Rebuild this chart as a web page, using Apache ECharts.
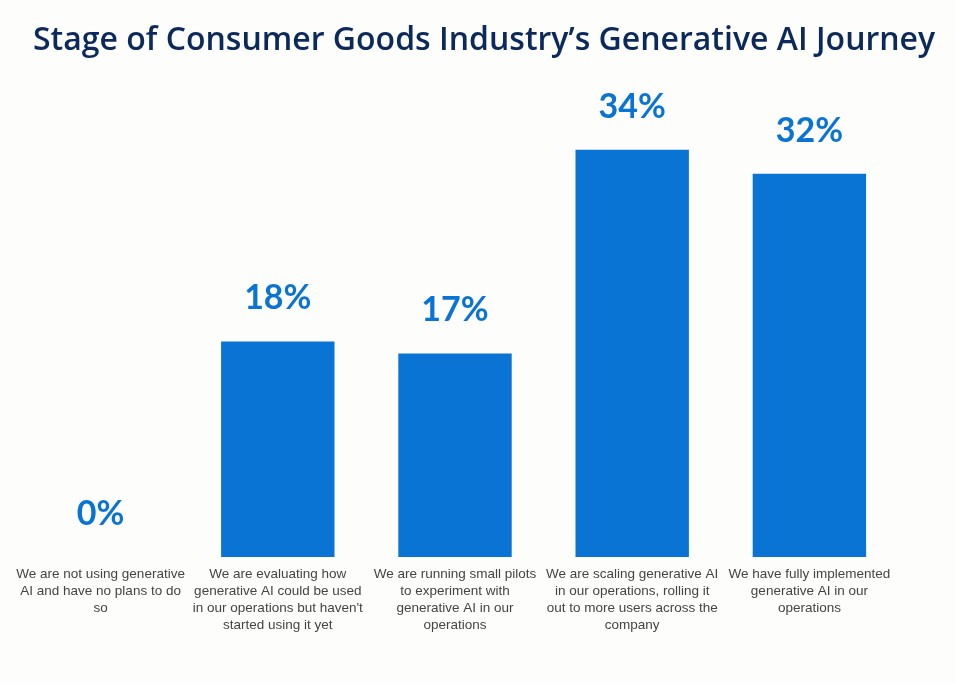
<!DOCTYPE html>
<html>
<head>
<meta charset="utf-8">
<script src="https://cdn.jsdelivr.net/npm/echarts@6/dist/echarts.min.js"></script>
<style>
html,body{margin:0;padding:0;background:#fdfdfc;}
#chart{width:955px;height:683px;}
</style>
</head>
<body>
<div id="chart"></div>
<script>
const titleText = "Stage of Consumer Goods Industry\u2019s Generative AI Journey";
const categories = [
  "We are not using generative\nAI and have no plans to do\nso",
  "We are evaluating how\ngenerative AI could be used\nin our operations but haven't\nstarted using it yet",
  "We are running small pilots\nto experiment with\ngenerative AI in our\noperations",
  "We are scaling generative AI\nin our operations, rolling it\nout to more users across the\ncompany",
  "We have fully implemented\ngenerative AI in our\noperations"
];
const values = [0, 18, 17, 34, 32];

const chart = echarts.init(document.getElementById('chart'));
chart.setOption({
  backgroundColor: '#fdfdfc',
  title: {
    text: titleText,
    left: 28,
    top: 20,
    textStyle: {
      fontFamily: 'Open Sans',
      fontWeight: 600,
      fontSize: 32,
      color: '#0b2a5b'
    }
  },
  grid: { left: 12, right: 57, top: 78, bottom: 126, containLabel: false },
  xAxis: {
    type: 'category',
    data: categories,
    axisLine: { show: false },
    axisTick: { show: false },
    axisLabel: {
      interval: 0,
      margin: 9,
      fontFamily: 'Liberation Sans',
      fontSize: 13.5,
      lineHeight: 17,
      color: '#444444',
      align: 'center'
    }
  },
  yAxis: {
    type: 'value',
    min: 0,
    max: 40,
    show: false,
    splitLine: { show: false }
  },
  series: [{
    type: 'bar',
    data: values,
    barWidth: '64%',
    itemStyle: { color: '#0a74d4' },
    label: {
      show: true,
      position: 'top',
      distance: 26,
      formatter: '{c}%',
      fontFamily: 'Lato',
      fontWeight: 'bold',
      fontSize: 34,
      color: '#0a74d4'
    }
  }]
});
</script>
</body>
</html>
